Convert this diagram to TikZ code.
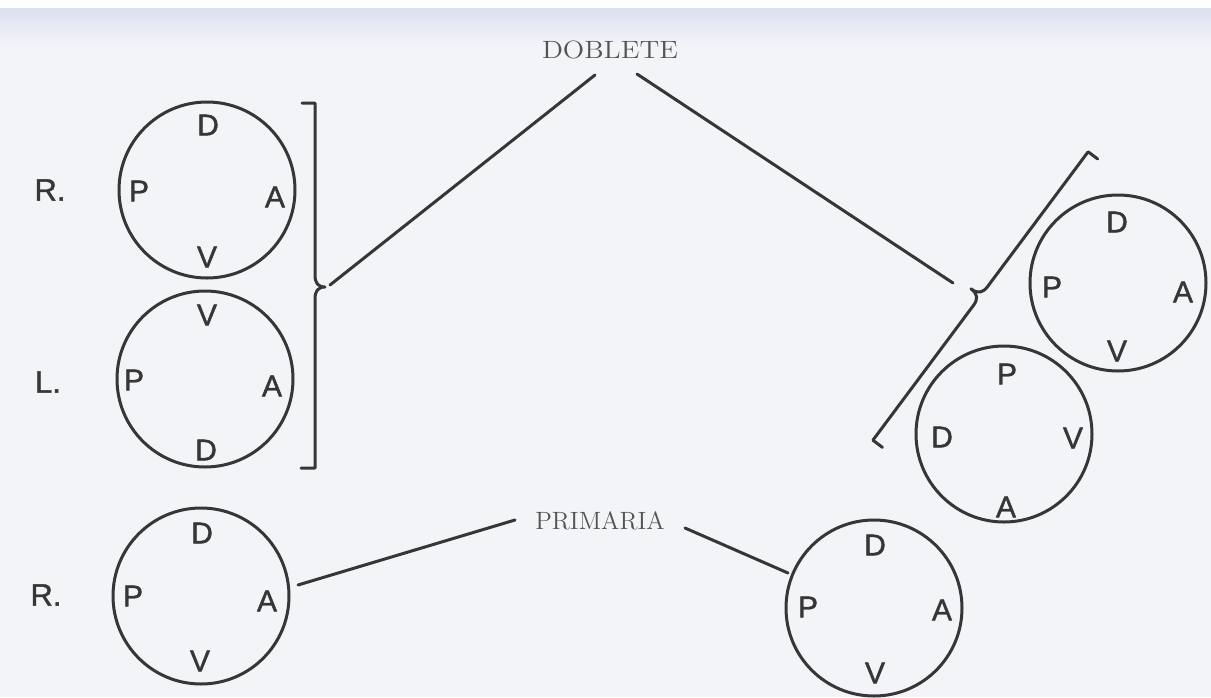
\documentclass[tikz,border=0pt]{standalone}
\usepackage{fontspec}
\newfontfamily\lettfont[FakeBold=1.3]{Liberation Sans}
\usetikzlibrary{calc}
\definecolor{paper}{HTML}{F2F4F8}
\definecolor{band}{HTML}{DBE0EE}
\definecolor{ink}{HTML}{363636}
\begin{document}
\begin{tikzpicture}[x=0.5pt,y=-0.5pt,
  ring/.style={circle,draw=ink,line width=1.5pt,minimum size=88pt,inner sep=0pt},
  lett/.style={font=\lettfont\fontsize{15}{15}\selectfont,text=ink,inner sep=0pt},
  side/.style={font=\lettfont\fontsize{15.5}{15.5}\selectfont,text=ink,inner sep=0pt},
  title/.style={font=\fontsize{12.5}{12.5}\selectfont,text=ink!85,inner sep=0pt},
  link/.style={draw=ink,line width=1.5pt,line cap=round},
  bracepath/.style={draw=ink,line width=1.5pt,line join=round,line cap=round}]
\useasboundingbox (0,0) rectangle (1211,697);
\fill[white] (0,0) rectangle (1211,697);
\fill[paper] (0,8) rectangle (1211,697);
\shade[top color=band,bottom color=paper] (0,8) rectangle (1211,45);

% circles
\node[ring] (c1) at (207,190) {};
\node[ring] (c2) at (205,379) {};
\node[ring] (c3) at (1118,283) {};
\node[ring] (c4) at (1004,434) {};
\node[ring] (c5) at (201,596) {};
\node[ring] (c6) at (874,608) {};

% letters c1
\node[lett] (c1d) at (208,125) {D};
\node[lett] (c1p) at (139,191) {P};
\node[lett] (c1a) at (275,197) {A};
\node[lett] (c1v) at (207,257) {V};
% letters c2
\node[lett] (c2v) at (207,315) {V};
\node[lett] (c2p) at (134,380) {P};
\node[lett] (c2a) at (272,386) {A};
\node[lett] (c2d) at (206,450) {D};
% letters c3
\node[lett] (c3d) at (1117,222) {D};
\node[lett] (c3p) at (1052,287) {P};
\node[lett] (c3a) at (1183,292) {A};
\node[lett] (c3v) at (1117,351) {V};
% letters c4
\node[lett] (c4p) at (1007,374) {P};
\node[lett] (c4d) at (942,437) {D};
\node[lett] (c4v) at (1073,438) {V};
\node[lett] (c4a) at (1006,507) {A};
% letters c5
\node[lett] (c5d) at (202,533) {D};
\node[lett] (c5p) at (133,596) {P};
\node[lett] (c5a) at (267,601) {A};
\node[lett] (c5v) at (200,661) {V};
% letters c6
\node[lett] (c6d) at (875,545) {D};
\node[lett] (c6p) at (808,607) {P};
\node[lett] (c6a) at (942,610) {A};
\node[lett] (c6v) at (875,673) {V};

% side labels
\node[side] (r1) at (50,190) {R.};
\node[side] (l2) at (48,382) {L.};
\node[side] (r5) at (46,595) {R.};

% titles
\node[title] (dob) at (610,50) {\scalebox{1.12}[1]{DOBLETE}};
\node[title] (prim) at (600,521) {PRIMARIA};

% left brace
\draw[bracepath] (302,103) -- (315,103) -- (315,275)
  .. controls (315,283) and (318,287) .. (325,287)
  .. controls (318,287) and (315,291) .. (315,299)
  -- (315,468) -- (301,468);
% right brace (rotated)
\draw[bracepath] (1097.7,159) -- (1088.1,151.8) -- (987.7,286.4)
  .. controls (982.9,292.8) and (978.1,294.2) .. (970.9,288.8)
  .. controls (978.1,294.2) and (978.1,299.2) .. (973.3,305.6)
  -- (872.9,440.2) -- (882.5,447.4);

% connector coordinates
\coordinate (dobL) at (595,75);
\coordinate (dobR) at (637,74);
\coordinate (braceL) at (330,285);
\coordinate (braceR) at (953,283);
\coordinate (primL) at (515,520);
\coordinate (primR) at (685,528);
\coordinate (c5out) at (298,585);
\coordinate (c6out) at (788,573);

\draw[link] (dobL) -- (braceL);
\draw[link] (dobR) -- (braceR);
\draw[link] (c5out) -- (primL);
\draw[link] (primR) -- (c6out);
\end{tikzpicture}
\end{document}
